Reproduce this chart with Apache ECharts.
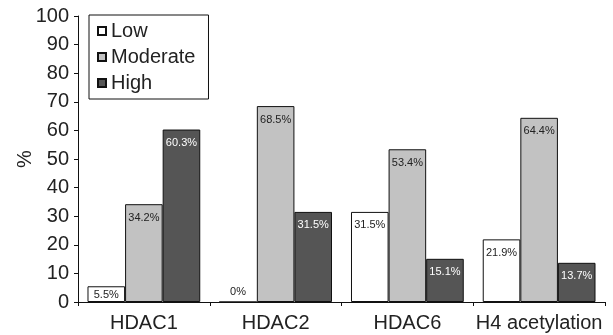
<!DOCTYPE html>
<html>
<head>
<meta charset="utf-8">
<script src="https://cdn.jsdelivr.net/npm/echarts@6/dist/echarts.min.js"></script>
<style>
  html, body { margin: 0; padding: 0; background: #fff; }
  #chart { width: 613px; height: 335px; }
</style>
</head>
<body>
<div id="chart"></div>
<script>
// Expression levels per marker, in percent of cases
const categories = ['HDAC1', 'HDAC2', 'HDAC6', 'H4 acetylation'];
const lowValues = [5.5, 0, 31.5, 21.9];
const moderateValues = [34.2, 68.5, 53.4, 64.4];
const highValues = [60.3, 31.5, 15.1, 13.7];
const yTicks = [0, 10, 20, 30, 40, 50, 60, 70, 80, 90, 100];

const FONT = '"Liberation Sans", Arial, sans-serif';
const INK = '#222';

function seriesData(values) {
  return values.map(v => {
    // a zero-height bar carries its label just above the axis
    if (v === 0) return { value: v, label: { position: 'top', distance: 4 } };
    // short bars keep the label snug under their top edge
    if (v < 8) return { value: v, label: { distance: 3 } };
    return v;
  });
}

function barSeries(name, values, fill, labelColor) {
  return {
    name: name,
    type: 'bar',
    data: seriesData(values),
    barGap: '0%',
    barCategoryGap: '14.4%',
    itemStyle: { color: fill, borderColor: '#111', borderWidth: 1 },
    label: {
      show: true,
      position: 'insideTop',
      distance: 8,
      formatter: p => p.value + '%',
      fontFamily: FONT,
      fontSize: 11,
      color: labelColor
    },
    emphasis: { disabled: true }
  };
}

const chart = echarts.init(document.getElementById('chart'), null, { renderer: 'canvas' });
chart.setOption({
  animation: false,
  backgroundColor: '#fff',
  grid: { left: 78, right: 8, top: 16, bottom: 33, containLabel: false },
  legend: {
    orient: 'vertical',
    left: 89,
    top: 15,
    padding: [6, 13, 6, 8],
    itemGap: 6,
    itemWidth: 8,
    itemHeight: 8,
    borderColor: '#111',
    borderWidth: 1,
    icon: 'rect',
    textStyle: { fontFamily: FONT, fontSize: 20, color: INK, lineHeight: 19 },
    data: ['Low', 'Moderate', 'High']
  },
  xAxis: {
    type: 'category',
    data: categories,
    axisLine: { lineStyle: { color: '#111', width: 1 } },
    axisTick: { show: true, alignWithLabel: false, length: 4, lineStyle: { color: '#111' } },
    axisLabel: { interval: 0, fontFamily: FONT, fontSize: 20, color: INK, margin: 11 }
  },
  yAxis: {
    type: 'value',
    min: yTicks[0],
    max: yTicks[yTicks.length - 1],
    interval: yTicks[1] - yTicks[0],
    name: '%',
    nameLocation: 'middle',
    nameGap: 43,
    nameMoveOverlap: false,
    nameRotate: 90,
    nameTextStyle: { fontFamily: FONT, fontSize: 20, color: INK },
    splitLine: { show: false },
    axisLine: { show: true, lineStyle: { color: '#111', width: 1 } },
    axisTick: { show: true, length: 4, lineStyle: { color: '#111' } },
    axisLabel: { fontFamily: FONT, fontSize: 20, color: INK, margin: 9 }
  },
  series: [
    barSeries('Low', lowValues, '#ffffff', INK),
    barSeries('Moderate', moderateValues, '#c2c2c2', INK),
    barSeries('High', highValues, '#555555', '#ffffff')
  ]
});
</script>
</body>
</html>
